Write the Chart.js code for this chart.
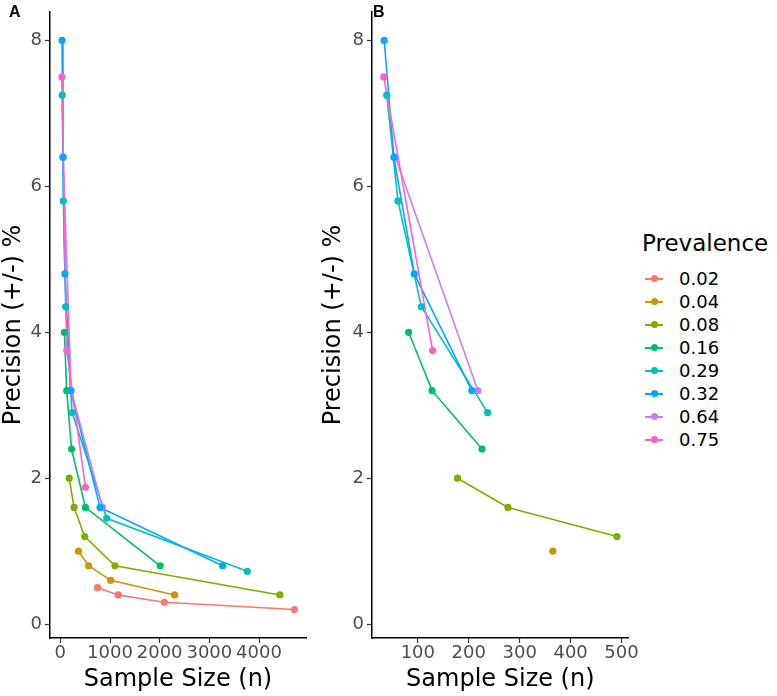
<!DOCTYPE html>
<html>
<head>
<meta charset="utf-8">
<script src="https://cdn.jsdelivr.net/npm/chart.js@4"></script>
<style>
  body { margin: 0; background: #fff; font-family: 'DejaVu Sans', sans-serif; }
  #wrap { position: relative; width: 777px; height: 696px; overflow: hidden; }
  canvas { position: absolute; top: 0; }
  .tag { position: absolute; font-weight: bold; font-size: 16px; line-height: 16px; color: #000; font-family: 'Liberation Sans', sans-serif; }
  #legend { position: absolute; left: 642px; top: 232px; }
  #legend .title { font-size: 23px; line-height: 23px; color: #000; margin-bottom: 12px; }
  #legend .row { position: relative; height: 23px; display: flex; align-items: center; }
  #legend .key { position: relative; width: 18px; height: 23px; margin-left: 3px; margin-right: 16px; }
  #legend .key .ln { position: absolute; left: 0; right: 0; top: 11px; height: 1.6px; }
  #legend .key .dt { position: absolute; left: 5.5px; top: 8px; width: 7px; height: 7px; border-radius: 50%; }
  #legend .lab { font-size: 18px; color: #000; }
</style>
</head>
<body>
<div id="wrap">
  <canvas id="chartA" width="310" height="696" style="left:0px"></canvas>
  <canvas id="chartB" width="320" height="696" style="left:320px"></canvas>
  <div class="tag" style="left:9px; top:4px">A</div>
  <div class="tag" style="left:373px; top:4px">B</div>
  <div id="legend"></div>
</div>
<script>
// prevalence groups
const prevalence = ['0.02', '0.04', '0.08', '0.16', '0.29', '0.32', '0.64', '0.75'];
const colors = ['#F8766D', '#CD9600', '#7CAE00', '#00BE67', '#00BFC4', '#00A9FF', '#C77CFF', '#FF61CC'];

// precision (+/-) % for each group
const precision = [
    [0.5, 0.4, 0.3, 0.2],
    [1.0, 0.8, 0.6, 0.4],
    [2.0, 1.6, 1.2, 0.8, 0.4],
    [4.0, 3.2, 2.4, 1.6, 0.8],
    [7.25, 5.8, 4.35, 2.9, 1.45, 0.725],
    [8.0, 6.4, 4.8, 3.2, 1.6, 0.8],
    [6.4, 3.2, 1.6],
    [7.5, 3.75, 1.875]
];

// sample size (n) for each group
const sampleSize = [
    [748, 1166, 2094, 4712],
    [365, 570, 1013, 2300],
    [178, 277, 491, 1100, 4420],
    [82, 128, 226, 505, 2010],
    [39, 61, 107, 237, 934, 3763],
    [34, 53, 93, 206, 800, 3266],
    [56, 218, 850],
    [33, 129, 505]
];

const yTicks = [0, 2, 4, 6, 8];
const xTicksA = [0, 1000, 2000, 3000, 4000];
const xTicksB = [100, 200, 300, 400, 500];
const panelBMaxN = 500;

// points of 0.64 sit under the 0.32 points in the picture
const pointOrder = [48, 47, 46, 45, 44, 42, 49, 41];

function buildDatasets(maxN) {
    let lines = [];
    let points = [];
    for (let i = 0; i < prevalence.length; i++) {
        let pts = [];
        for (let j = 0; j < sampleSize[i].length; j++) {
            if (sampleSize[i][j] <= maxN) {
                pts.push({x: sampleSize[i][j], y: precision[i][j]});
            }
        }
        lines.push({
            label: prevalence[i],
            data: pts,
            borderColor: colors[i],
            borderWidth: 1.6,
            pointRadius: 0,
            showLine: true,
            order: 100 - i
        });
        points.push({
            label: prevalence[i],
            data: pts,
            backgroundColor: colors[i],
            borderWidth: 0,
            pointRadius: 3.6,
            showLine: false,
            order: pointOrder[i]
        });
    }
    return lines.concat(points);
}

const tickFont = {family: "'DejaVu Sans', sans-serif", size: 18, lineHeight: 1};
const titleFont = {family: "'DejaVu Sans', sans-serif", size: 24, lineHeight: 1};

function makeChart(id, maxN, xMin, xMax, xTicks, yWidth, padRight) {
    const ctx = document.getElementById(id).getContext('2d');
    return new Chart(ctx, {
        type: 'scatter',
        data: {datasets: buildDatasets(maxN)},
        options: {
            responsive: false,
            animation: false,
            devicePixelRatio: 1,
            layout: {padding: {top: 3, right: padRight, bottom: 0, left: 0}},
            plugins: {legend: {display: false}, tooltip: {enabled: false}},
            scales: {
                x: {
                    type: 'linear',
                    min: xMin,
                    max: xMax,
                    afterBuildTicks: (scale) => { scale.ticks = xTicks.map(v => ({value: v})); },
                    afterFit: (scale) => { scale.height = 58; },
                    grid: {drawOnChartArea: false, drawTicks: true, tickLength: 5, tickColor: '#333333', tickWidth: 1.2},
                    border: {color: '#000000', width: 1.5},
                    ticks: {font: tickFont, color: '#4D4D4D', padding: 1, autoSkip: false, maxRotation: 0,
                        callback: (value) => String(value)},
                    title: {display: true, text: 'Sample Size (n)', color: '#000000', font: titleFont, padding: {top: 0, bottom: 4}}
                },
                y: {
                    type: 'linear',
                    min: -0.19,
                    max: 8.39,
                    afterBuildTicks: (scale) => { scale.ticks = yTicks.map(v => ({value: v})); },
                    afterFit: (scale) => { scale.width = yWidth; },
                    grid: {drawOnChartArea: false, drawTicks: true, tickLength: 5, tickColor: '#333333', tickWidth: 1.2},
                    border: {color: '#000000', width: 1.5},
                    ticks: {font: tickFont, color: '#4D4D4D', padding: 3, callback: (value) => String(value)},
                    title: {display: true, text: 'Precision (+/-) %', color: '#000000', font: titleFont, padding: {top: 2, bottom: 0}}
                }
            }
        }
    });
}

makeChart('chartA', Infinity, -208, 4946, xTicksA, 50, 2);
makeChart('chartB', panelBMaxN, 10, 514, xTicksB, 52, 10);

// legend
const legend = document.getElementById('legend');
let html = '<div class="title">Prevalence</div>';
for (let i = 0; i < prevalence.length; i++) {
    html += '<div class="row"><div class="key"><div class="ln" style="background:' + colors[i] + '"></div>' +
        '<div class="dt" style="background:' + colors[i] + '"></div></div>' +
        '<div class="lab">' + prevalence[i] + '</div></div>';
}
legend.innerHTML = html;
</script>
</body>
</html>
